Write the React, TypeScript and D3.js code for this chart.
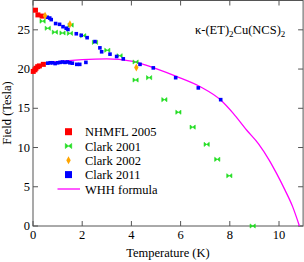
import React from 'react';
import * as d3 from 'd3';

// NHMFL 2005 (red squares)
const nhmflT = [0.1, 0.2, 0.37, 0.01, 0.08, 0.12, 0.19, 0.26, 0.42];
const nhmflH = [27.5, 26.9, 26.75, 19.7, 19.9, 20.1, 20.3, 20.4, 20.6];

// Clark 2001 (green bowties)
const clark01T = [0.39, 0.6, 0.89, 1.2, 1.5, 1.53, 2.04, 2.52, 3.02, 3.52, 4.17, 4.17, 4.72, 5.34, 5.91, 6.49, 7.06, 7.49, 7.98, 8.93];
const clark01H = [26.1, 25.2, 24.7, 24.6, 24.55, 25.6, 24.25, 23.4, 22.4, 21.7, 20.9, 18.6, 18.9, 16.1, 14.5, 12.6, 10.4, 8.5, 6.4, 0];

// Clark 2002 (orange diamonds)
const clark02T = [0.49, 1.5, 4.2];
const clark02H = [26.8, 25.7, 20.2];

// Clark 2011 (blue squares)
const clark11T = [
  0.58, 0.68, 0.74, 0.92, 1.08, 1.22, 1.35, 1.42, 1.76, 1.96, 2.2, 2.52, 2.72, 2.79, 3.13, 3.4, 3.67,
  0.6, 0.7, 0.8, 0.9, 1.0, 1.1, 1.2, 1.3, 1.4, 1.5, 1.6, 1.78, 1.9, 2.15,
  4.35, 4.89, 5.8, 6.72, 7.63,
];
const clark11H = [
  26.6, 26.5, 26.3, 25.8, 25.7, 25.4, 25.2, 25.05, 24.5, 24.3, 24.0, 23.5, 22.7, 22.2, 21.9, 21.6, 21.3,
  20.75, 20.8, 20.8, 20.7, 20.8, 20.85, 20.9, 20.85, 20.9, 20.8, 20.75, 20.6, 20.6, 20.85,
  20.6, 20.15, 18.9, 17.6, 16.1,
];

// WHH formula curve
const whhT = [0.4, 1, 2, 3, 4, 4.4, 5, 5.8, 6.8, 7.63, 8.14, 8.69, 9.16, 9.6, 9.9, 10.24, 10.55, 10.83];
const whhH = [20.7, 20.95, 21.2, 21.3, 21.0, 20.7, 20.05, 19.1, 17.75, 16.05, 14.35, 12.2, 10.5, 8.4, 6.7, 4.6, 2.5, 0];

const xTicks = [0, 2, 4, 6, 8, 10];
const yTicks = [0, 5, 10, 15, 20, 25];

const legendItems = ['NHMFL 2005', 'Clark 2001', 'Clark 2002', 'Clark 2011', 'WHH formula'];

const W = 304;
const H = 262;
const font = "'Liberation Serif', 'Times New Roman', serif";

const bowtie = (s: number) => `M${-s},${-s * 0.8}L${s},${s * 0.8}L${s},${-s * 0.8}L${-s},${s * 0.8}Z`;
const diamond = (w: number, h: number) => `M0,${-h}L${w},0L0,${h}L${-w},0Z`;

const App: React.FC = () => {
  const x = d3.scaleLinear().domain([0, 11]).range([33, 303.6]);
  const y = d3.scaleLinear().domain([0, 28.8]).range([226, 0]);

  const line = d3.line<number>()
    .x((_, i) => x(whhT[i]))
    .y((d) => y(d))
    .curve(d3.curveMonotoneX);

  const left = x(0);
  const right = x(11) - 0.5;
  const top = 0.5;
  const bottom = y(0);
  const tick = 5;
  const axisColor = '#555';

  const legX = 68.5;
  const legY = [131.7, 146, 160.3, 174.6, 189];

  return (
    <svg width={W} height={H} style={{ position: 'absolute', left: 0, top: 0 }} fontFamily={font}>
      <rect x={left} y={top} width={right - left} height={bottom - top} fill="none" stroke={axisColor} strokeWidth={1} />
      {xTicks.map((t) => (
        <g key={'x' + t}>
          <line x1={x(t)} x2={x(t)} y1={bottom} y2={bottom - tick} stroke={axisColor} />
          <line x1={x(t)} x2={x(t)} y1={top} y2={top + tick} stroke={axisColor} />
          <text x={x(t)} y={bottom + 13} fontSize={12.5} textAnchor="middle">{t}</text>
        </g>
      ))}
      {yTicks.map((t) => (
        <g key={'y' + t}>
          <line x1={left} x2={left + tick} y1={y(t)} y2={y(t)} stroke={axisColor} />
          <line x1={right} x2={right - tick} y1={y(t)} y2={y(t)} stroke={axisColor} />
          <text x={left - 3} y={y(t) + 4} fontSize={12.5} textAnchor="end">{t}</text>
        </g>
      ))}
      <text x={168} y={257} fontSize={12.5} textAnchor="middle">Temperature (K)</text>
      <text transform="translate(11,113) rotate(-90)" fontSize={12.5} textAnchor="middle">Field (Tesla)</text>

      <text x={195} y={34} fontSize={12.5}>
        κ-(ET)<tspan fontSize={9} dy={3}>2</tspan><tspan dy={-3}>Cu(NCS)</tspan><tspan fontSize={9} dy={3}>2</tspan>
      </text>

      <path d={line(whhH) ?? ''} fill="none" stroke="#ff00ff" strokeWidth={1.3} />

      {clark01T.map((t, i) => (
        <path key={'g' + i} d={bowtie(2.6)} transform={`translate(${x(t)},${y(clark01H[i])})`} fill="#22dd22" stroke="#22dd22" strokeWidth={0.6} />
      ))}
      {nhmflT.map((t, i) => (
        <rect key={'r' + i} x={x(t) - 2.5} y={y(nhmflH[i]) - 2.5} width={5} height={5} fill="#ff0000" />
      ))}
      {clark11T.map((t, i) => (
        <rect key={'b' + i} x={x(t) - 1.8} y={y(clark11H[i]) - 1.8} width={3.6} height={3.6} fill="#0000ff" />
      ))}
      {clark02T.map((t, i) => (
        <path key={'o' + i} d={diamond(2.2, 4)} transform={`translate(${x(t)},${y(clark02H[i])})`} fill="#ffa500" />
      ))}

      <rect x={legX - 3.5} y={legY[0] - 3.5} width={7} height={7} fill="#ff0000" />
      <path d={bowtie(3.2)} transform={`translate(${legX},${legY[1]})`} fill="#22dd22" stroke="#22dd22" strokeWidth={0.6} />
      <path d={diamond(2.2, 4)} transform={`translate(${legX},${legY[2]})`} fill="#ffa500" />
      <rect x={legX - 3.5} y={legY[3] - 3.5} width={7} height={7} fill="#0000ff" />
      <line x1={57.5} x2={80} y1={legY[4]} y2={legY[4]} stroke="#ff00ff" strokeWidth={1.3} />
      {legendItems.map((s, i) => (
        <text key={s} x={85} y={legY[i] + 4.5} fontSize={12.5}>{s}</text>
      ))}
    </svg>
  );
};

export default App;
